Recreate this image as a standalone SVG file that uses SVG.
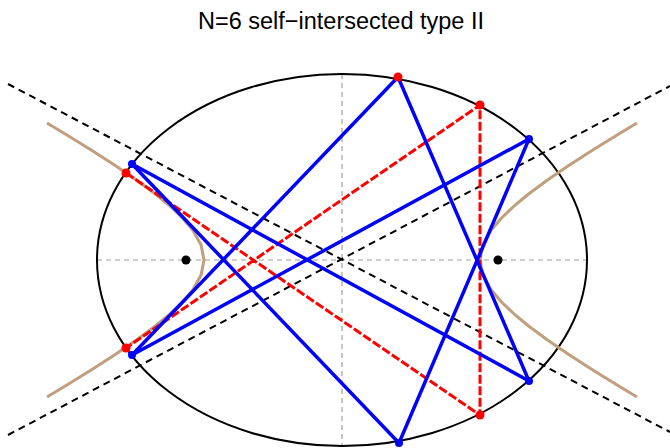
<svg xmlns="http://www.w3.org/2000/svg" width="670" height="448" viewBox="0 0 670 448">
<style>
.axis{stroke:#a0a0a0;stroke-width:1.2;stroke-dasharray:5,4;fill:none}
.ell{stroke:#000;stroke-width:2;fill:none}
.hyp{stroke:#bf9f7f;stroke-width:3;fill:none;stroke-linejoin:round}
.asym{stroke:#000;stroke-width:2;stroke-dasharray:7,5;fill:none}
.red{stroke:#ff0000;stroke-width:3;stroke-dasharray:9,2.5;fill:none}
.blue{stroke:#0000ff;stroke-width:3.5;fill:none;stroke-linejoin:round}
.rdot{fill:#ff0000}
.bdot{fill:#0000ff}
.title{font-family:"Liberation Sans",Arial,sans-serif;font-size:23.5px;fill:#000}
</style>
<text class="title" x="341" y="29" text-anchor="middle">N=6 self−intersected type II</text>
<g id="axes">
<line class="axis" x1="97" y1="260" x2="587" y2="260"/>
<line class="axis" x1="342" y1="74" x2="342" y2="446"/>
</g>
<g id="ellipse"><ellipse class="ell" cx="342" cy="260" rx="245" ry="186"/></g>
<g id="hyperbola">
<polyline class="hyp" points="637,123 617.1,135 592.8,150 569.5,165 547.5,180 529.9,193 515.2,205 501.5,218 491.3,230 482.9,245 480,260 482.9,275 491.3,290 501.5,302 515.2,315 529.9,327 547.5,340 569.5,355 592.8,370 617.1,385 637,397"/>
<polyline class="hyp" points="47,123 66.9,135 91.2,150 114.5,165 136.5,180 154.1,193 168.8,205 182.5,218 192.7,230 201.1,245 204,260 201.1,275 192.7,290 182.5,302 168.8,315 154.1,327 136.5,340 114.5,355 91.2,370 66.9,385 47,397"/>
</g>
<g id="connectors">
<line class="asym" x1="8" y1="84" x2="670" y2="432"/>
<line class="asym" x1="8" y1="435" x2="670" y2="86"/>
<polyline class="red" points="126,173 480,415 480,105 126,348"/>
<polygon class="blue" points="132,164 529,381 398,77 132,355 529,139 399,443"/>
</g>
<g id="foci">
<circle cx="186" cy="260" r="4.5" fill="#000"/>
<circle cx="498" cy="260" r="4.5" fill="#000"/>
</g>
<g id="red-points">
<circle class="rdot" cx="398" cy="77" r="4.5"/>
<circle class="rdot" cx="480" cy="105" r="4.5"/>
<circle class="rdot" cx="480" cy="415" r="4.5"/>
<circle class="rdot" cx="126" cy="173" r="4.5"/>
<circle class="rdot" cx="126" cy="348" r="4.5"/>
</g>
<g id="blue-points">
<circle class="bdot" cx="132" cy="164" r="4"/>
<circle class="bdot" cx="132" cy="355" r="4"/>
<circle class="bdot" cx="529" cy="139" r="4"/>
<circle class="bdot" cx="529" cy="381" r="4"/>
<circle class="bdot" cx="399" cy="443" r="4"/>
</g>
</svg>
